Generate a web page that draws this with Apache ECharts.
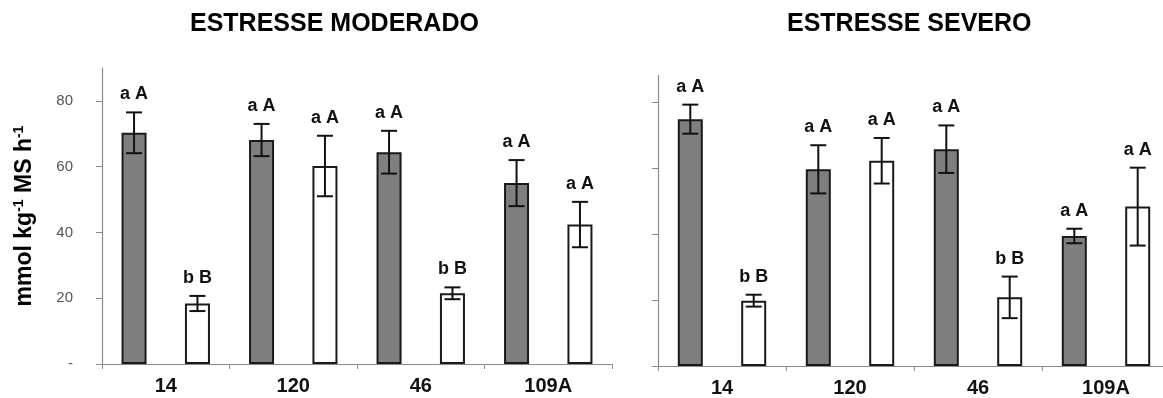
<!DOCTYPE html>
<html>
<head>
<meta charset="utf-8">
<script src="https://cdn.jsdelivr.net/npm/echarts@6/dist/echarts.min.js"></script>
<style>
  html, body { margin: 0; padding: 0; background: #fff; }
  #chart { width: 1163px; height: 398px; }
</style>
</head>
<body>
<div id="chart"></div>
<script>
// Cultivars on the x axis
const categories = ['14', '120', '46', '109A'];
const yTicks = [0, 20, 40, 60, 80];

// Moderate stress: grey bars (dark) and white bars, with their error half-widths
const modDark = [70.3, 68.1, 64.4, 55.0];
const modDarkErr = [6.2, 4.9, 6.5, 7.0];
const modWhite = [18.4, 60.2, 21.5, 42.4];
const modWhiteErr = [2.3, 9.2, 1.8, 6.9];

// Severe stress
const sevDark = [74.8, 59.6, 65.7, 39.4];
const sevDarkErr = [4.4, 7.3, 7.2, 2.2];
const sevWhite = [19.8, 62.2, 20.8, 48.3];
const sevWhiteErr = [1.8, 6.9, 6.3, 11.8];

// Significance letters above each bar
const modDarkLbl = ['a A', 'a A', 'a A', 'a A'];
const modWhiteLbl = ['b B', 'a A', 'b B', 'a A'];
const sevDarkLbl = ['a A', 'a A', 'a A', 'a A'];
const sevWhiteLbl = ['b B', 'a A', 'b B', 'a A'];

const FONT = 'Liberation Sans, Arial, sans-serif';
const BAR_W = 25;
const BAR_GAP = 1.536;           // fraction of bar width
const HALF_STEP = (BAR_W + BAR_W * BAR_GAP) / 2;

const chart = echarts.init(document.getElementById('chart'));

function xAxisFor(i) {
  return {
    type: 'category', gridIndex: i, data: categories,
    axisLine: { show: true, lineStyle: { color: '#8a8a8a', width: 1.2 } },
    axisTick: { show: true, alignWithLabel: false, interval: 0, length: 5, lineStyle: { color: '#8a8a8a' } },
    axisLabel: { show: true, interval: 0, margin: 12, color: '#111', fontSize: 20, fontWeight: 'bold', fontFamily: FONT },
    splitLine: { show: false }
  };
}

function yAxisFor(i, max, showLabels) {
  const ax = {
    type: 'value', gridIndex: i, min: 0, max: max,
    axisLine: { show: true, lineStyle: { color: '#8a8a8a', width: 1.2 } },
    axisTick: { show: true, inside: false, length: 6, customValues: yTicks, lineStyle: { color: '#8a8a8a' } },
    axisLabel: {
      show: showLabels, customValues: yTicks, margin: 29, color: '#555', fontSize: 15, fontFamily: FONT,
      formatter: v => (v === 0 ? '-' : String(v))
    },
    splitLine: { show: false }
  };
  if (showLabels) {
    ax.name = '{m|mmol kg}{s|-1}{m| MS h}{s|-1}';
    ax.nameLocation = 'middle';
    ax.nameRotate = 90;
    ax.nameGap = 65;
    ax.nameTextStyle = {
      rich: {
        m: { fontSize: 23, fontWeight: 'bold', fontFamily: FONT, color: '#000', lineHeight: 25 },
        s: { fontSize: 14, fontWeight: 'bold', fontFamily: FONT, color: '#000', verticalAlign: 'top', lineHeight: 14 }
      }
    };
  }
  return ax;
}

function barSeries(i, values, fill) {
  return {
    type: 'bar', xAxisIndex: i, yAxisIndex: i, data: values,
    barWidth: BAR_W, barGap: (BAR_GAP * 100) + '%',
    itemStyle: { color: fill, borderColor: '#1a1a1a', borderWidth: 2 },
    emphasis: { disabled: true }, z: 2
  };
}

// Error bars and letters, placed on the same band slot as the matching bar
function errSeries(i, values, errs, labels, side) {
  return {
    type: 'custom', xAxisIndex: i, yAxisIndex: i, z: 5,
    data: values.map((v, k) => [k, v, errs[k]]),
    renderItem: function (params, api) {
      const k = api.value(0), v = api.value(1), e = api.value(2);
      const base = api.coord([k, v]);
      const x = base[0] + side * HALF_STEP;
      const top = api.coord([k, v + e])[1];
      const bot = api.coord([k, v - e])[1];
      const cap = 8;
      const ls = { stroke: '#111', lineWidth: 2 };
      return {
        type: 'group',
        children: [
          { type: 'line', shape: { x1: x, y1: top, x2: x, y2: bot }, style: ls },
          { type: 'line', shape: { x1: x - cap, y1: top, x2: x + cap, y2: top }, style: ls },
          { type: 'line', shape: { x1: x - cap, y1: bot, x2: x + cap, y2: bot }, style: ls },
          {
            type: 'text', x: x, y: top - 9,
            style: { text: labels[k], fill: '#111', font: 'bold 18px ' + FONT, textAlign: 'center', textVerticalAlign: 'bottom' }
          }
        ]
      };
    }
  };
}

chart.setOption({
  animation: false,
  backgroundColor: '#fff',
  title: [
    { text: 'ESTRESSE MODERADO', left: 185, top: 7, textStyle: { fontSize: 25, fontWeight: 'bold', fontFamily: FONT, color: '#000' } },
    { text: 'ESTRESSE SEVERO', left: 782, top: 7, textStyle: { fontSize: 25, fontWeight: 'bold', fontFamily: FONT, color: '#000' } }
  ],
  grid: [
    { left: 102, top: 68, right: 551, bottom: 34, containLabel: false, outerBoundsMode: 'none' },
    { left: 658, top: 75.6, right: -7, bottom: 32, containLabel: false, outerBoundsMode: 'none' }
  ],
  xAxis: [xAxisFor(0), xAxisFor(1)],
  yAxis: [yAxisFor(0, 90, true), yAxisFor(1, 88, false)],
  series: [
    barSeries(0, modDark, '#7f7f7f'),
    barSeries(0, modWhite, '#ffffff'),
    barSeries(1, sevDark, '#7f7f7f'),
    barSeries(1, sevWhite, '#ffffff'),
    errSeries(0, modDark, modDarkErr, modDarkLbl, -1),
    errSeries(0, modWhite, modWhiteErr, modWhiteLbl, 1),
    errSeries(1, sevDark, sevDarkErr, sevDarkLbl, -1),
    errSeries(1, sevWhite, sevWhiteErr, sevWhiteLbl, 1)
  ]
});
</script>
</body>
</html>
